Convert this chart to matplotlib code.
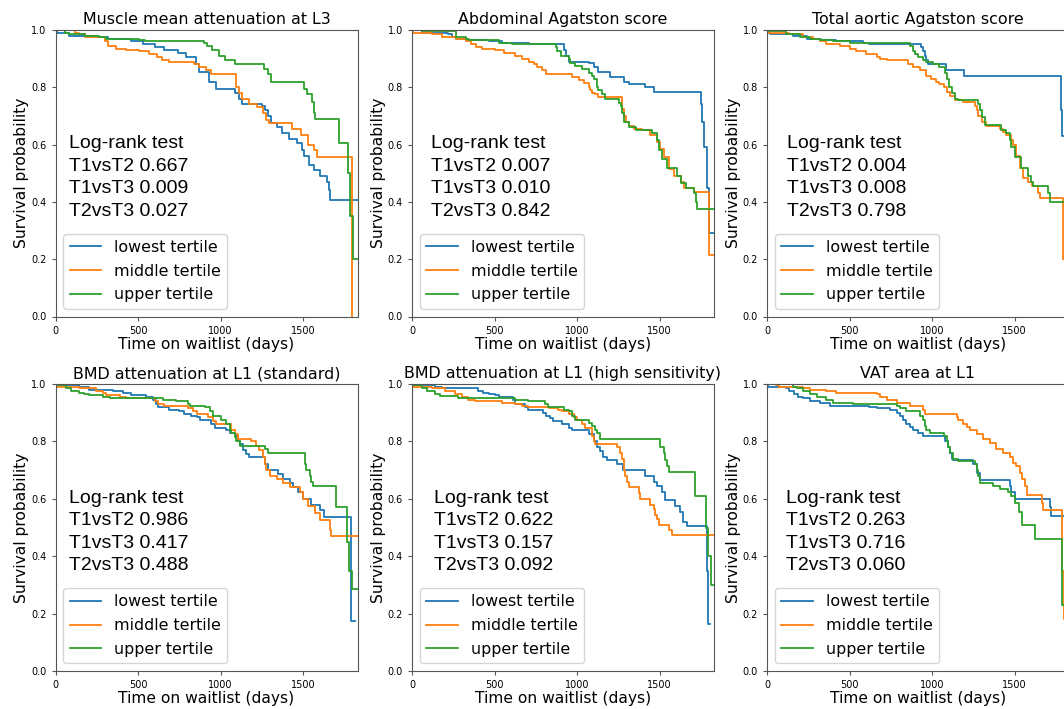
import matplotlib
matplotlib.use("Agg")
import matplotlib.pyplot as plt

# Kaplan-Meier step values: (days, survival probability)
titles = ["Muscle mean attenuation at L3", "Abdominal Agatston score",
          "Total aortic Agatston score", "BMD attenuation at L1 (standard)",
          "BMD attenuation at L1 (high sensitivity)", "VAT area at L1"]
tertiles = ["lowest tertile", "middle tertile", "upper tertile"]

p_t1t2 = ["0.667", "0.007", "0.004", "0.986", "0.622", "0.263"]
p_t1t3 = ["0.009", "0.010", "0.008", "0.417", "0.157", "0.716"]
p_t2t3 = ["0.027", "0.842", "0.798", "0.488", "0.092", "0.060"]

muscle_low = [(0, 1.0), (10, 0.99), (80, 0.98), (240, 0.975), (320, 0.97), (460, 0.96), (530, 0.95),
              (600, 0.94), (660, 0.93), (740, 0.92), (790, 0.905), (850, 0.88), (870, 0.855),
              (930, 0.82), (970, 0.795), (1090, 0.78), (1110, 0.76), (1130, 0.74), (1250, 0.735),
              (1270, 0.72), (1285, 0.70), (1305, 0.675), (1345, 0.66), (1375, 0.64), (1415, 0.62),
              (1465, 0.605), (1495, 0.58), (1505, 0.56), (1535, 0.53), (1565, 0.51), (1600, 0.49),
              (1645, 0.47), (1655, 0.44), (1665, 0.405), (1830, 0.405)]
muscle_mid = [(0, 1.0), (120, 0.99), (140, 0.985), (180, 0.975), (300, 0.96), (320, 0.945), (365, 0.935),
              (425, 0.93), (505, 0.925), (565, 0.915), (615, 0.905), (645, 0.895), (690, 0.89),
              (840, 0.88), (870, 0.87), (910, 0.86), (940, 0.845), (1095, 0.80), (1110, 0.78),
              (1130, 0.76), (1170, 0.74), (1220, 0.73), (1260, 0.71), (1275, 0.685), (1295, 0.675),
              (1435, 0.655), (1485, 0.635), (1530, 0.60), (1565, 0.58), (1585, 0.557), (1795, 0.0)]
muscle_up = [(0, 1.0), (60, 0.99), (80, 0.985), (180, 0.98), (265, 0.975), (305, 0.97), (505, 0.965),
             (545, 0.96), (900, 0.955), (920, 0.945), (950, 0.93), (990, 0.91), (1030, 0.895),
             (1090, 0.88), (1265, 0.865), (1285, 0.845), (1305, 0.82), (1505, 0.795), (1525, 0.775),
             (1555, 0.75), (1565, 0.71), (1575, 0.69), (1715, 0.645), (1720, 0.605), (1770, 0.5),
             (1785, 0.35), (1800, 0.2), (1830, 0.2)]

abd_low = [(0, 1.0), (60, 0.99), (220, 0.985), (245, 0.975), (265, 0.97), (325, 0.965), (465, 0.96),
           (545, 0.955), (710, 0.95), (920, 0.93), (935, 0.91), (950, 0.89), (1070, 0.885),
           (1100, 0.87), (1130, 0.855), (1200, 0.835), (1285, 0.82), (1315, 0.81), (1410, 0.80),
           (1465, 0.785), (1750, 0.74), (1760, 0.68), (1770, 0.59), (1790, 0.45), (1800, 0.29),
           (1830, 0.29)]
abd_mid = [(0, 1.0), (5, 0.99), (120, 0.985), (180, 0.975), (265, 0.97), (325, 0.96), (355, 0.95),
           (385, 0.94), (425, 0.935), (505, 0.93), (555, 0.92), (625, 0.91), (665, 0.90), (710, 0.89),
           (740, 0.88), (760, 0.87), (790, 0.86), (810, 0.845), (970, 0.835), (1010, 0.825),
           (1040, 0.815), (1070, 0.80), (1080, 0.79), (1090, 0.78), (1110, 0.775), (1130, 0.765),
           (1270, 0.745), (1275, 0.725), (1285, 0.70), (1295, 0.68), (1315, 0.665), (1345, 0.655),
           (1395, 0.65), (1445, 0.635), (1485, 0.61), (1505, 0.585), (1525, 0.555), (1555, 0.515),
           (1585, 0.49), (1630, 0.47), (1650, 0.45), (1710, 0.435), (1800, 0.215), (1830, 0.215)]
abd_up = [(0, 1.0), (60, 0.995), (265, 0.975), (325, 0.97), (345, 0.965), (525, 0.955), (605, 0.95),
          (870, 0.94), (880, 0.925), (900, 0.91), (950, 0.90), (960, 0.885), (990, 0.875),
          (1030, 0.865), (1070, 0.85), (1090, 0.84), (1100, 0.83), (1120, 0.80), (1130, 0.79),
          (1150, 0.775), (1170, 0.76), (1255, 0.745), (1265, 0.735), (1275, 0.71), (1285, 0.68),
          (1315, 0.66), (1355, 0.65), (1455, 0.64), (1485, 0.615), (1495, 0.58), (1515, 0.55),
          (1545, 0.52), (1605, 0.49), (1630, 0.465), (1660, 0.45), (1710, 0.43), (1720, 0.40),
          (1730, 0.375), (1830, 0.375)]

aortic_low = [(0, 1.0), (5, 0.99), (20, 0.985), (155, 0.98), (240, 0.97), (330, 0.965), (420, 0.96),
              (580, 0.955), (620, 0.95), (935, 0.94), (945, 0.925), (955, 0.91), (965, 0.895),
              (975, 0.88), (1085, 0.86), (1195, 0.84), (1780, 0.72), (1785, 0.63), (1805, 0.35),
              (1830, 0.35)]
aortic_mid = [(0, 1.0), (5, 0.99), (135, 0.985), (220, 0.975), (280, 0.97), (320, 0.96), (360, 0.95),
              (440, 0.945), (500, 0.935), (540, 0.925), (600, 0.915), (665, 0.905), (685, 0.90),
              (730, 0.895), (855, 0.88), (885, 0.87), (925, 0.86), (965, 0.84), (995, 0.83),
              (1025, 0.82), (1045, 0.81), (1070, 0.80), (1090, 0.785), (1110, 0.77), (1140, 0.755),
              (1190, 0.75), (1260, 0.735), (1270, 0.72), (1280, 0.70), (1300, 0.68), (1330, 0.665),
              (1410, 0.655), (1430, 0.645), (1450, 0.635), (1480, 0.615), (1490, 0.60), (1508, 0.56),
              (1533, 0.52), (1553, 0.485), (1583, 0.47), (1603, 0.455), (1643, 0.43), (1655, 0.415),
              (1792, 0.2), (1830, 0.2)]
aortic_up = [(0, 1.0), (5, 0.995), (115, 0.985), (200, 0.975), (260, 0.97), (320, 0.965), (400, 0.96),
             (500, 0.955), (865, 0.945), (885, 0.925), (895, 0.915), (915, 0.905), (945, 0.895),
             (965, 0.89), (1005, 0.88), (1045, 0.87), (1080, 0.85), (1090, 0.83), (1100, 0.80),
             (1120, 0.78), (1140, 0.76), (1160, 0.755), (1280, 0.74), (1290, 0.72), (1300, 0.695),
             (1320, 0.67), (1420, 0.65), (1450, 0.64), (1470, 0.615), (1480, 0.59), (1500, 0.555),
             (1540, 0.52), (1580, 0.49), (1600, 0.47), (1610, 0.455), (1700, 0.43), (1715, 0.40),
             (1830, 0.40)]

bmd_low = [(0, 1.0), (15, 0.995), (145, 0.99), (205, 0.98), (350, 0.975), (410, 0.97), (460, 0.96),
           (550, 0.955), (590, 0.945), (610, 0.93), (620, 0.92), (690, 0.91), (750, 0.905),
           (780, 0.895), (820, 0.89), (855, 0.885), (875, 0.875), (945, 0.86), (965, 0.845),
           (1035, 0.84), (1055, 0.83), (1085, 0.82), (1105, 0.80), (1115, 0.79), (1135, 0.77),
           (1155, 0.755), (1175, 0.745), (1270, 0.72), (1290, 0.70), (1350, 0.685), (1380, 0.67),
           (1420, 0.655), (1440, 0.64), (1470, 0.625), (1500, 0.60), (1550, 0.58), (1600, 0.56),
           (1630, 0.535), (1790, 0.175), (1815, 0.175)]
bmd_mid = [(0, 1.0), (5, 0.99), (145, 0.985), (245, 0.975), (285, 0.97), (305, 0.96), (390, 0.955),
           (430, 0.95), (600, 0.94), (620, 0.93), (660, 0.925), (800, 0.915), (835, 0.905),
           (855, 0.895), (925, 0.885), (955, 0.87), (975, 0.86), (1065, 0.84), (1085, 0.825),
           (1105, 0.81), (1185, 0.80), (1215, 0.785), (1235, 0.77), (1255, 0.745), (1268, 0.72),
           (1278, 0.70), (1298, 0.68), (1340, 0.67), (1380, 0.655), (1420, 0.64), (1480, 0.625),
           (1500, 0.60), (1530, 0.575), (1570, 0.55), (1600, 0.525), (1665, 0.49), (1670, 0.47),
           (1830, 0.47)]
bmd_up = [(0, 1.0), (5, 0.995), (65, 0.985), (95, 0.975), (145, 0.97), (175, 0.965), (205, 0.96),
          (285, 0.955), (330, 0.95), (650, 0.945), (730, 0.94), (800, 0.93), (815, 0.925),
          (905, 0.92), (935, 0.905), (955, 0.89), (1005, 0.875), (1035, 0.86), (1055, 0.84),
          (1065, 0.83), (1085, 0.815), (1095, 0.80), (1115, 0.785), (1270, 0.775), (1290, 0.76),
          (1510, 0.72), (1520, 0.70), (1540, 0.68), (1550, 0.66), (1560, 0.645), (1698, 0.61),
          (1702, 0.57), (1765, 0.45), (1780, 0.35), (1795, 0.285), (1830, 0.285)]

hs_low = [(0, 1.0), (8, 0.995), (140, 0.99), (180, 0.985), (400, 0.975), (430, 0.97), (465, 0.965),
          (505, 0.96), (525, 0.955), (615, 0.945), (625, 0.93), (685, 0.92), (705, 0.91), (795, 0.90),
          (815, 0.89), (835, 0.88), (855, 0.87), (910, 0.86), (950, 0.845), (970, 0.84),
          (1070, 0.825), (1100, 0.80), (1120, 0.78), (1140, 0.765), (1160, 0.745), (1180, 0.735),
          (1240, 0.72), (1280, 0.70), (1410, 0.68), (1465, 0.66), (1485, 0.645), (1515, 0.625),
          (1535, 0.595), (1595, 0.575), (1625, 0.555), (1645, 0.52), (1665, 0.505), (1785, 0.35),
          (1795, 0.165), (1808, 0.165)]
hs_mid = [(0, 1.0), (5, 0.99), (120, 0.985), (200, 0.975), (260, 0.965), (300, 0.955), (340, 0.945),
          (380, 0.94), (545, 0.935), (625, 0.93), (665, 0.925), (705, 0.92), (830, 0.915),
          (885, 0.91), (910, 0.905), (950, 0.895), (980, 0.885), (1000, 0.875), (1030, 0.86),
          (1050, 0.845), (1090, 0.82), (1100, 0.80), (1110, 0.79), (1240, 0.78), (1260, 0.76),
          (1272, 0.74), (1282, 0.70), (1292, 0.68), (1302, 0.66), (1312, 0.64), (1373, 0.62),
          (1383, 0.60), (1444, 0.58), (1464, 0.565), (1474, 0.545), (1484, 0.53), (1494, 0.51),
          (1555, 0.49), (1575, 0.475), (1830, 0.475)]
hs_up = [(0, 1.0), (5, 0.995), (60, 0.985), (90, 0.975), (140, 0.965), (170, 0.958), (280, 0.952),
         (625, 0.945), (705, 0.94), (805, 0.93), (825, 0.92), (920, 0.91), (950, 0.905), (970, 0.89),
         (990, 0.875), (1070, 0.865), (1090, 0.855), (1110, 0.84), (1120, 0.83), (1140, 0.81),
         (1505, 0.78), (1525, 0.76), (1535, 0.735), (1545, 0.715), (1555, 0.695), (1712, 0.65),
         (1717, 0.61), (1780, 0.50), (1795, 0.40), (1810, 0.30), (1830, 0.30)]

vat_low = [(0, 1.0), (5, 0.99), (115, 0.985), (135, 0.975), (165, 0.965), (190, 0.955), (220, 0.95),
           (260, 0.94), (320, 0.935), (380, 0.925), (620, 0.92), (665, 0.915), (745, 0.91),
           (785, 0.90), (805, 0.89), (825, 0.875), (845, 0.86), (865, 0.85), (885, 0.84),
           (915, 0.83), (945, 0.82), (1080, 0.80), (1095, 0.78), (1110, 0.76), (1120, 0.74),
           (1130, 0.735), (1250, 0.72), (1270, 0.69), (1290, 0.665), (1470, 0.645), (1480, 0.625),
           (1500, 0.60), (1715, 0.57), (1720, 0.54), (1805, 0.30), (1830, 0.30)]
vat_mid = [(0, 1.0), (55, 0.995), (75, 0.99), (220, 0.985), (260, 0.98), (360, 0.975), (420, 0.97),
           (665, 0.965), (685, 0.955), (725, 0.945), (785, 0.935), (865, 0.925), (945, 0.91),
           (955, 0.895), (1150, 0.885), (1160, 0.875), (1190, 0.86), (1210, 0.85), (1230, 0.84),
           (1270, 0.825), (1310, 0.81), (1350, 0.795), (1390, 0.775), (1430, 0.76), (1470, 0.745),
           (1490, 0.725), (1510, 0.715), (1533, 0.69), (1545, 0.67), (1563, 0.645), (1573, 0.613),
           (1665, 0.585), (1672, 0.56), (1788, 0.35), (1800, 0.18), (1830, 0.18)]
vat_up = [(0, 1.0), (155, 0.99), (180, 0.985), (220, 0.975), (260, 0.965), (300, 0.955), (360, 0.945),
          (400, 0.935), (520, 0.93), (785, 0.925), (805, 0.915), (845, 0.905), (925, 0.89),
          (945, 0.875), (955, 0.855), (965, 0.84), (985, 0.83), (1075, 0.82), (1088, 0.80),
          (1098, 0.78), (1108, 0.76), (1128, 0.74), (1160, 0.73), (1260, 0.72), (1270, 0.70),
          (1280, 0.68), (1290, 0.655), (1370, 0.645), (1410, 0.635), (1460, 0.625), (1480, 0.61),
          (1500, 0.585), (1530, 0.555), (1545, 0.51), (1625, 0.46), (1790, 0.23), (1830, 0.23)]

curves = [
    [muscle_low, muscle_mid, muscle_up],
    [abd_low, abd_mid, abd_up],
    [aortic_low, aortic_mid, aortic_up],
    [bmd_low, bmd_mid, bmd_up],
    [hs_low, hs_mid, hs_up],
    [vat_low, vat_mid, vat_up],
]

# text x position (axes fraction) of the log-rank box in each panel
text_x = [0.045, 0.063, 0.066, 0.045, 0.073, 0.063]

fig = plt.figure(figsize=(10.64, 7.09), dpi=100)
W, H = 1064, 709
lefts = [55.5, 412, 767]
rows = [(30, 316.5), (384, 671)]

for i in range(6):
    r, c = divmod(i, 3)
    top, bot = rows[r]
    ax = fig.add_axes([lefts[c] / W, (H - bot) / H, 302 / W, (bot - top) / H])
    for pts, lab in zip(curves[i], tertiles):
        t = [p[0] for p in pts]
        s = [p[1] for p in pts]
        ax.plot(t, s, drawstyle="steps-post", lw=1.3, label=lab)
    ax.set_xlim(0, 1830)
    ax.set_ylim(0, 1.0)
    ax.set_xticks([0, 500, 1000, 1500])
    ax.set_yticks([0, 0.2, 0.4, 0.6, 0.8, 1.0])
    ax.tick_params(labelsize=7, length=3, color="#555555")
    for sp in ax.spines.values():
        sp.set_color("#555555")
    ax.set_title(titles[i], fontsize=11.4, pad=4)
    ax.set_xlabel("Time on waitlist (days)", fontsize=11.2, labelpad=1)
    ax.set_ylabel("Survival probability", fontsize=11.2, labelpad=1.5)
    txt = "Log-rank test\nT1vsT2 %s\nT1vsT3 %s\nT2vsT3 %s" % (p_t1t2[i], p_t1t3[i], p_t2t3[i])
    ax.text(text_x[i], 0.632, txt, transform=ax.transAxes, va="top", ha="left",
            fontsize=14, family="Liberation Sans", linespacing=1.42)
    ax.legend(loc="lower left", fontsize=11.4, labelspacing=0.55)

fig.savefig("out.png", dpi=100)
